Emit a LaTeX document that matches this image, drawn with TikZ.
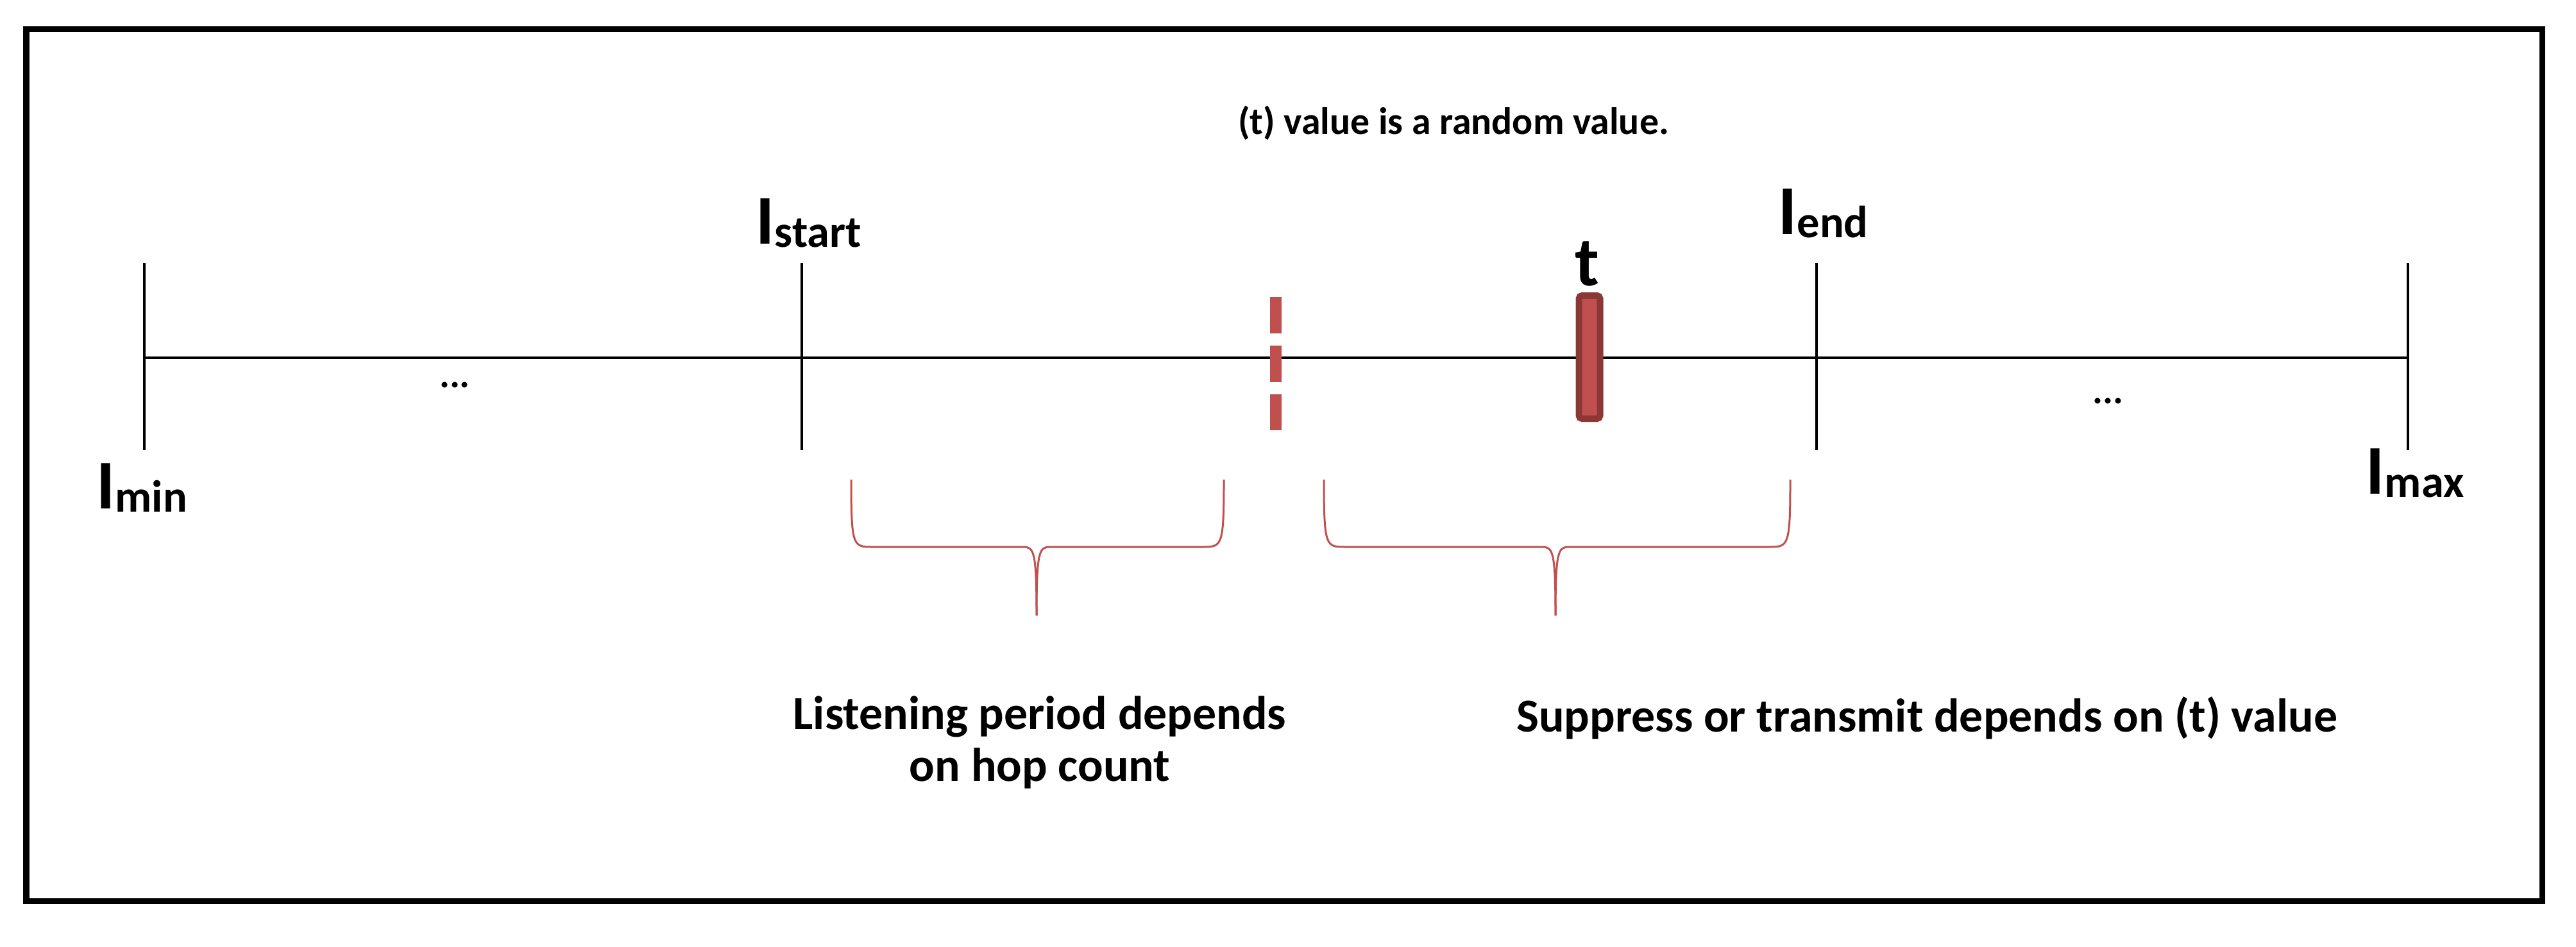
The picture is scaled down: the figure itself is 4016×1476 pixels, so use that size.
\documentclass[tikz,border=0pt]{standalone}
\usepackage{fontspec}
\setmainfont{Carlito}
\begin{document}
\begin{tikzpicture}[x=0.01cm,y=-0.01cm,
  txt/.style={font=\bfseries\fontsize{17}{21}\selectfont, align=center},
  btxt/.style={font=\bfseries\fontsize{21}{23}\selectfont, align=center},
  lab/.style={inner sep=0pt},
  brace/.style={draw={rgb,255:red,192;green,80;blue,77}, line width=0.03cm}]
\useasboundingbox (0,0) rectangle (4016,1476);
\draw[line width=0.09cm] (41,46) rectangle (3963,1405);
% axis
\coordinate (a0) at (225,558); \coordinate (a1) at (3754,558);
\draw[line width=0.035cm] (a0) -- (a1);
\foreach \n/\x in {tmin/225,tstart/1250,tend/2832,tmax/3754}{
  \coordinate (\n1) at (\x,410); \coordinate (\n2) at (\x,702);
  \draw[line width=0.035cm] (\n1) -- (\n2);}
% dashed
\coordinate (d1) at (1989,463); \coordinate (d2) at (1989,671);
\draw[draw={rgb,255:red,192;green,80;blue,77}, line width=0.18cm, dash pattern=on 0.57cm off 0.19cm] (d1) -- (d2);
% t bar
\node[draw={rgb,255:red,140;green,54;blue,54}, fill={rgb,255:red,192;green,80;blue,77}, line width=0.1cm, rounded corners=0.05cm, minimum width=0.33cm, minimum height=1.92cm, inner sep=0pt] (tb) at (2478,557) {};
% braces
\draw[brace] (1327,748) .. controls (1327,853) and (1330,853) .. (1360,853) -- (1595,853) .. controls (1612,853) and (1616,860) .. (1616,960);
\draw[brace] (1616,960) .. controls (1616,860) and (1620,853) .. (1637,853) -- (1875,853) .. controls (1905,853) and (1908,853) .. (1908,748);
\draw[brace] (2064,748) .. controls (2064,853) and (2067,853) .. (2097,853) -- (2404,853) .. controls (2421,853) and (2425,860) .. (2425,960);
\draw[brace] (2425,960) .. controls (2425,860) and (2429,853) .. (2446,853) -- (2758,853) .. controls (2788,853) and (2791,853) .. (2791,748);
% labels
\newcommand{\bigI}[1]{\bfseries{\fontsize{31}{32}\selectfont I}\raisebox{-0.35ex}{\fontsize{20}{22}\selectfont #1}}
\node[lab, anchor=base west] (lmin) at (150,793) {\bigI{min}};
\node[lab, anchor=base west] (lstart) at (1178,380) {\bigI{start}};
\node[lab, anchor=base west] (lend) at (2772,365) {\bigI{end}};
\node[lab, anchor=base west] (lmax) at (3688,770) {\bigI{max}};
\node[lab, anchor=base] (lt) at (2474,445) {\bfseries\fontsize{31}{32}\selectfont t};
\node[txt] (dots1) at (709,600) {...};
\node[txt] (dots2) at (3286,625) {...};
\node[txt] (rand) at (2266,192) {(t) value is a random value.};
\node[btxt] (listen) at (1621,1158) {Listening period depends\\on hop count};
\node[btxt] (supp) at (3004,1120) {Suppress or transmit depends on (t) value};
\end{tikzpicture}
\end{document}
